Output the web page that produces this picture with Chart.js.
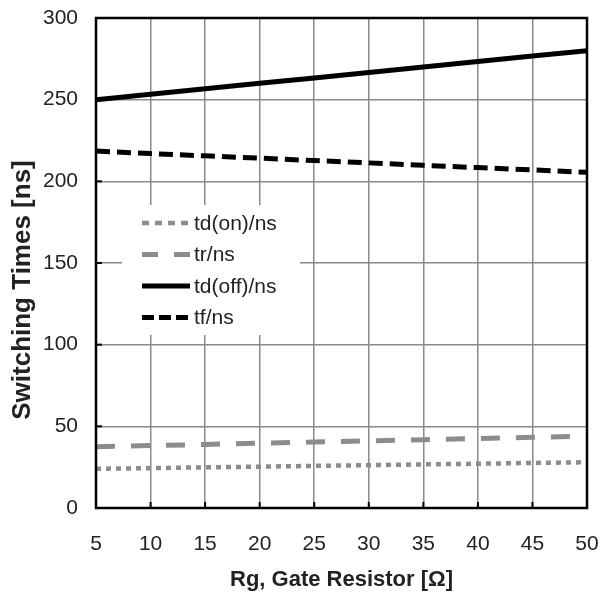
<!DOCTYPE html>
<html lang="en">
<head>
    <meta charset="UTF-8">
    <title>Switching Times vs Gate Resistor</title>
    <script src="https://cdn.jsdelivr.net/npm/chart.js"></script>
    <style>
        html, body { margin: 0; padding: 0; background: #fff; }
        #wrap { width: 602px; height: 602px; }
    </style>
</head>
<body>
    <div id="wrap"><canvas id="chart" width="602" height="602"></canvas></div>
    <script>
        // Data
        const rg = [5, 10, 15, 20, 25, 30, 35, 40, 45, 50];
        const tdOn = [24, 24.4, 24.9, 25.3, 25.8, 26.2, 26.7, 27.1, 27.6, 28];
        const tr = [37.5, 38.2, 38.9, 39.7, 40.4, 41.1, 41.8, 42.5, 43.3, 44];
        const tdOff = [250, 253.3, 256.7, 260, 263.3, 266.7, 270, 273.3, 276.7, 280];
        const tf = [218.5, 217, 215.6, 214.2, 212.7, 211.3, 209.8, 208.4, 207, 205.5];
        const yTicks = [0, 50, 100, 150, 200, 250, 300];
        const yTitle = 'Switching Times [ns]';

        const font = "'Liberation Sans', Arial, sans-serif";

        // legend box inside the plot, frame, inward ticks, y title (sits a bit low in the original)
        const decor = {
            id: 'decor',
            afterDatasetsDraw(chart) {
                const { ctx, chartArea: a, scales } = chart;
                ctx.save();
                // inward black ticks
                ctx.strokeStyle = '#000';
                ctx.lineWidth = 2;
                scales.y.ticks.forEach(t => {
                    const y = scales.y.getPixelForValue(t.value);
                    ctx.beginPath(); ctx.moveTo(a.left, y); ctx.lineTo(a.left + 6, y); ctx.stroke();
                });
                scales.x.ticks.forEach(t => {
                    const x = scales.x.getPixelForValue(t.value);
                    ctx.beginPath(); ctx.moveTo(x, a.bottom); ctx.lineTo(x, a.bottom - 6); ctx.stroke();
                });
                // frame
                ctx.lineWidth = 2.5;
                ctx.strokeRect(a.left, a.top, a.right - a.left, a.bottom - a.top);

                // legend
                const bx = 122, by = 205, bw = 178, bh = 130;
                ctx.fillStyle = '#fff';
                ctx.fillRect(bx, by, bw, bh);
                ctx.font = '21px ' + font;
                ctx.textBaseline = 'middle';
                chart.data.datasets.forEach((ds, i) => {
                    const y = 223 + i * 31.5;
                    ctx.strokeStyle = ds.borderColor;
                    ctx.lineWidth = ds.borderWidth;
                    ctx.setLineDash(ds.legendDash || []);
                    ctx.beginPath(); ctx.moveTo(142, y); ctx.lineTo(190, y); ctx.stroke();
                    ctx.setLineDash([]);
                    ctx.fillStyle = '#222';
                    ctx.fillText(ds.label, 194, y + 1);
                });

                // y axis title
                ctx.translate(22, 290);
                ctx.rotate(-Math.PI / 2);
                ctx.font = 'bold 26px ' + font;
                ctx.textAlign = 'center';
                ctx.fillStyle = '#222';
                ctx.fillText(yTitle, 0, 1);
                ctx.restore();
            }
        };

        new Chart(document.getElementById('chart'), {
            type: 'line',
            data: {
                labels: rg,
                datasets: [
                    { label: 'td(on)/ns', data: tdOn, borderColor: '#8c8c8c', borderWidth: 4.5,
                      borderDash: [5, 5], legendDash: [7, 6] },
                    { label: 'tr/ns', data: tr, borderColor: '#8c8c8c', borderWidth: 5,
                      borderDash: [19, 16], legendDash: [16, 16] },
                    { label: 'td(off)/ns', data: tdOff, borderColor: '#000', borderWidth: 5,
                      borderDash: [] },
                    { label: 'tf/ns', data: tf, borderColor: '#000', borderWidth: 5,
                      borderDash: [14, 7], legendDash: [12, 5] }
                ].map(d => Object.assign(d, {
                    pointRadius: 0, fill: false, tension: 0, borderCapStyle: 'butt'
                }))
            },
            options: {
                responsive: false,
                animation: false,
                layout: { padding: { left: 0, right: 15, top: 18, bottom: 0 } },
                plugins: { legend: { display: false }, tooltip: { enabled: false } },
                scales: {
                    x: {
                        type: 'linear',
                        min: 5, max: 50,
                        ticks: { stepSize: 5, color: '#222', font: { family: font, size: 21 }, padding: 24 },
                        grid: { color: '#8a8a8a', lineWidth: 1.5, drawTicks: false },
                        border: { display: false },
                        title: { display: true, text: 'Rg, Gate Resistor [Ω]', color: '#222',
                                 font: { family: font, size: 22, weight: 'bold' }, padding: { top: 4, bottom: 9 } },
                        afterFit(s) { s.height = 94; s.paddingLeft = 0; s.paddingRight = 0; }
                    },
                    y: {
                        min: 0, max: 300,
                        afterBuildTicks(s) { s.ticks = yTicks.map(v => ({ value: v })); },
                        ticks: { color: '#222', font: { family: font, size: 21 }, padding: 18 },
                        grid: { color: '#8a8a8a', lineWidth: 1.5, drawTicks: false },
                        border: { display: false },
                        title: { display: false },
                        afterFit(s) { s.width = 96; s.paddingTop = 0; s.paddingBottom = 0; }
                    }
                }
            },
            plugins: [decor]
        });
    </script>
</body>
</html>
